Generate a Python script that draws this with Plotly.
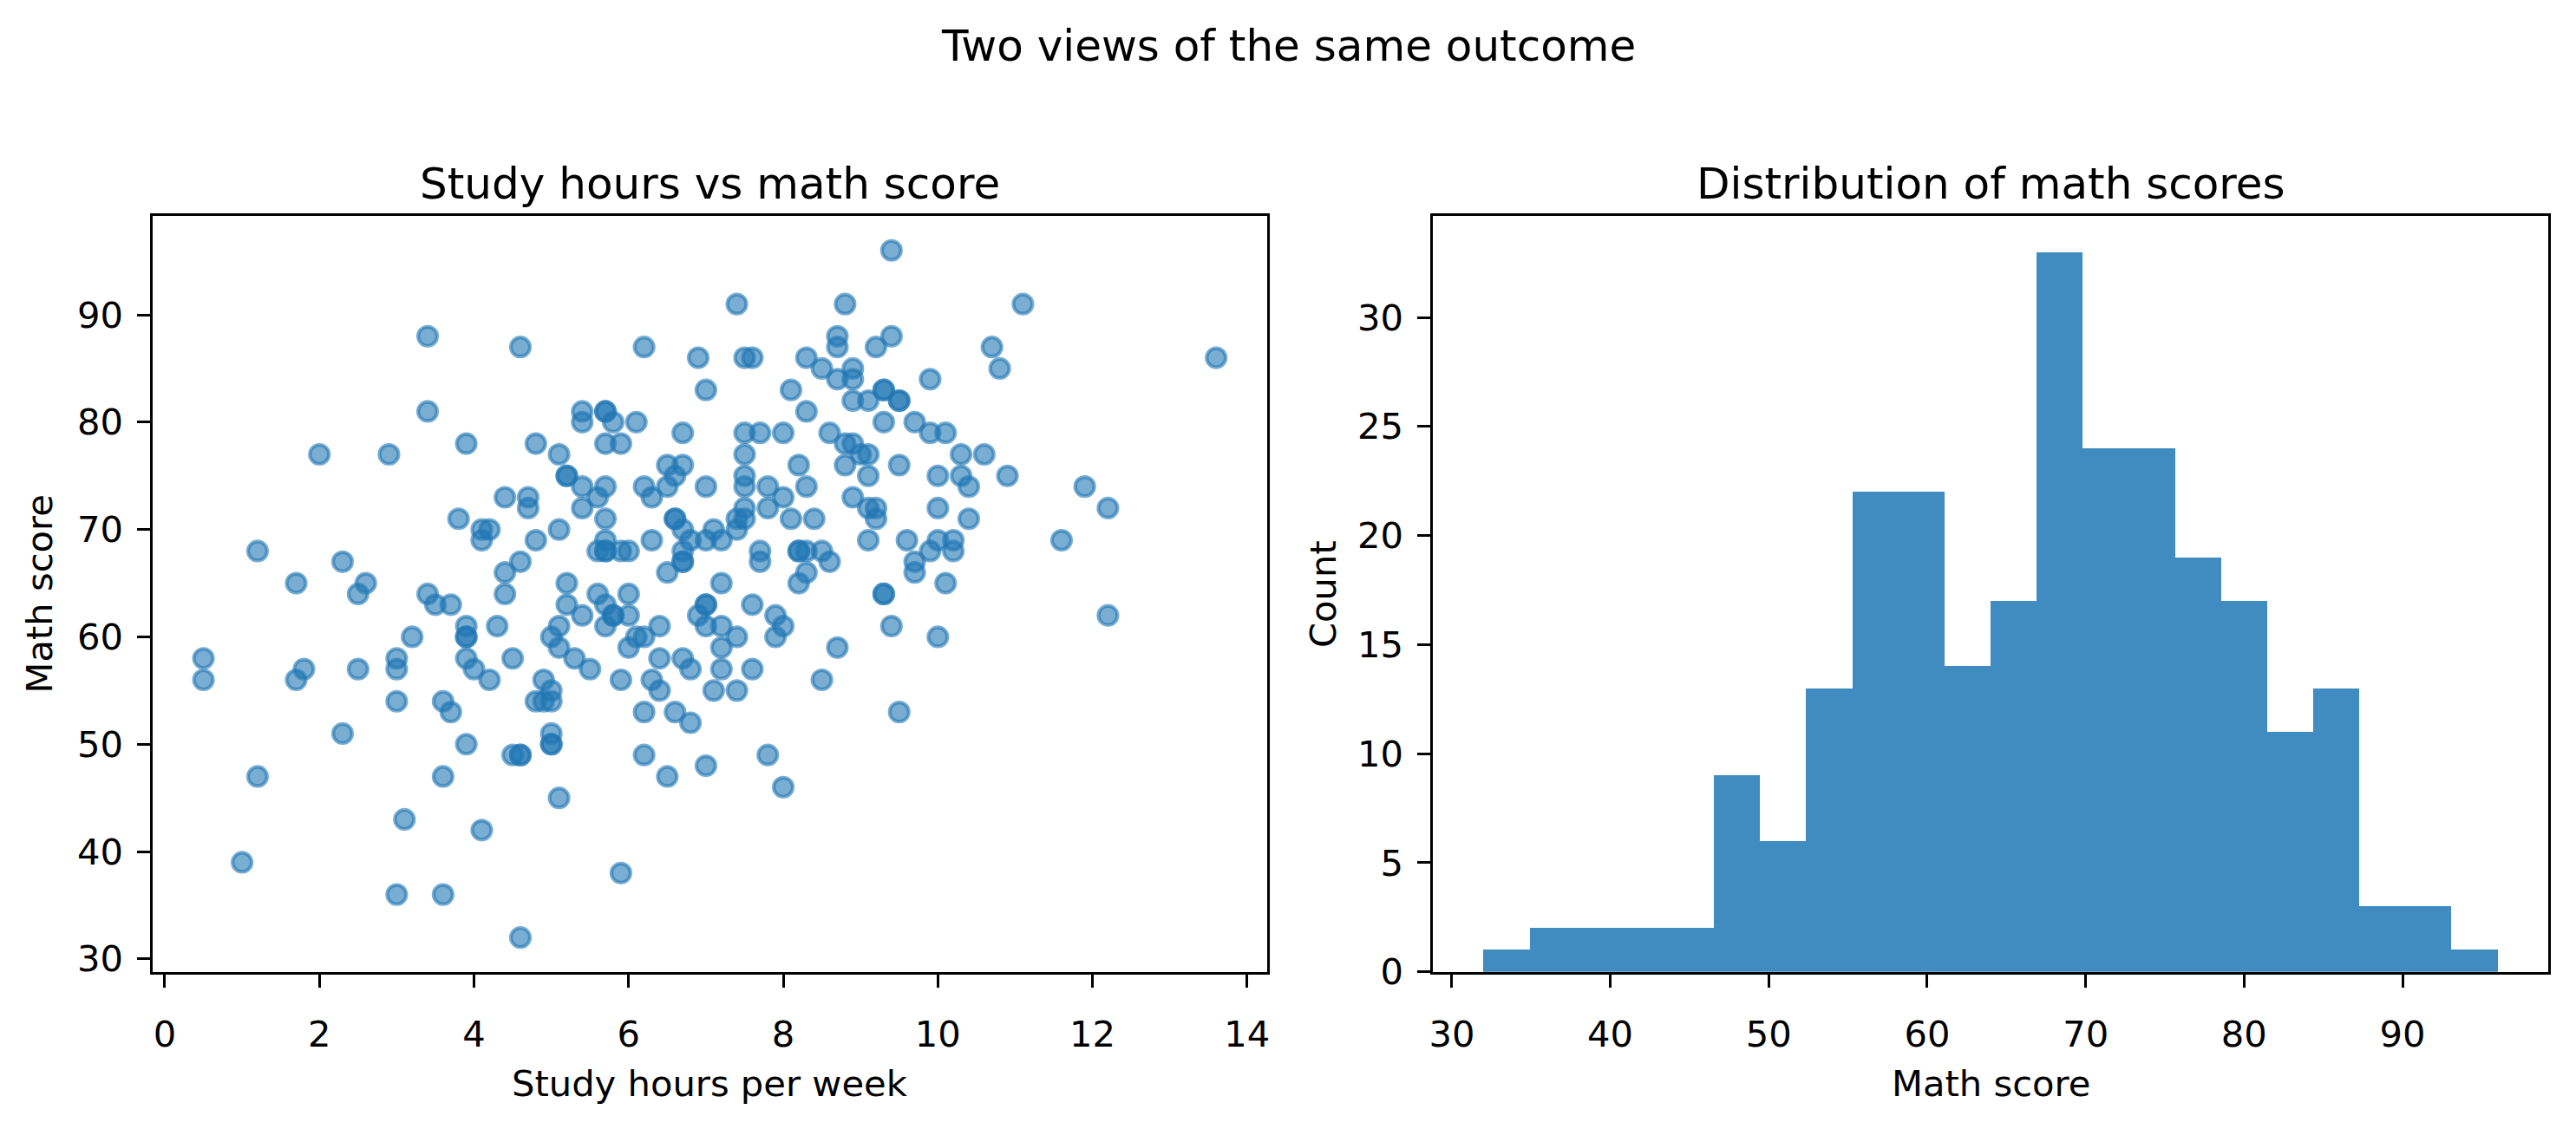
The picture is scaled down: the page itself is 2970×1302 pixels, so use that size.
import numpy as np
import plotly.graph_objects as go

# study hours and math score per student (grouped by score)
study_hours = [
    9.4,
    7.4, 8.8, 11.1,
    3.4, 8.7, 9.4,
    4.6, 6.2, 8.7, 9.2, 10.7,
    6.9, 7.5, 7.6, 8.3, 13.6,
    8.5, 8.9, 10.8,
    8.7, 8.9, 9.9,
    7.0, 8.1, 9.3, 9.3,
    8.9, 9.1, 9.5, 9.5,
    3.4, 5.4, 5.7, 5.7, 8.3,
    5.4, 5.8, 6.1, 9.3, 9.7,
    6.7, 7.5, 7.7, 8.0, 8.6, 9.9, 10.1,
    3.9, 4.8, 5.7, 5.9, 8.8, 8.9,
    2.0, 2.9, 5.1, 7.5, 9.0, 9.1, 10.3, 10.6,
    6.5, 6.7, 8.2, 8.8, 9.5,
    5.2, 5.2, 6.6, 7.5, 9.1, 10.0, 10.3, 10.9,
    5.4, 5.7, 6.2, 6.5, 7.0, 7.5, 7.8, 8.3, 10.4, 11.9,
    4.4, 4.7, 5.6, 6.3, 8.0, 8.9,
    4.7, 5.4, 7.5, 7.8, 9.1, 9.2, 10.0, 12.2,
    3.8, 5.7, 6.6, 6.6, 7.4, 7.5, 8.1, 8.4, 9.2, 10.4,
    4.1, 4.2, 5.1, 6.7, 7.1, 7.4,
    4.1, 4.8, 5.7, 6.3, 6.8, 7.0, 7.2, 9.1, 9.6, 10.0, 10.2, 11.6,
    1.2, 5.6, 5.7, 5.7, 5.9, 6.0, 6.7, 7.7, 8.2, 8.2, 8.3, 8.5, 9.9, 10.2,
    2.3, 4.6, 6.7, 6.7, 7.7, 8.6, 9.7,
    4.4, 6.5, 8.3, 9.7,
    1.7, 2.6, 5.2, 7.2, 8.2, 10.1,
    2.5, 3.4, 4.4, 5.6, 6.0, 9.3, 9.3,
    3.5, 3.7, 5.2, 5.7, 7.0, 7.0, 7.6,
    5.4, 5.8, 5.8, 6.0, 6.9, 7.9, 12.2,
    3.9, 4.3, 5.1, 5.7, 6.4, 7.0, 7.2, 8.0, 9.4,
    3.2, 3.9, 3.9, 5.0, 6.1, 6.2, 7.4, 7.9, 10.0,
    5.1, 6.0, 7.2, 8.7,
    0.5, 3.0, 3.9, 4.5, 5.3, 6.4, 6.7,
    1.8, 2.5, 3.0, 4.0, 5.5, 6.8, 7.2, 7.6,
    0.5, 1.7, 4.2, 4.9, 5.9, 6.3, 8.5,
    5.0, 6.4, 7.1, 7.4,
    3.0, 3.6, 4.8, 4.9, 5.0,
    3.7, 6.2, 6.6, 9.5,
    6.8,
    2.3, 5.0,
    3.9, 5.0, 5.0,
    4.5, 4.6, 4.6, 6.2, 7.8,
    7.0,
    1.2, 3.6, 6.5,
    8.0,
    5.1,
    3.1,
    4.1,
    1.0,
    5.9,
    3.0, 3.6,
    4.6,
]

math_score = [
    96,
    91, 91, 91,
    88, 88, 88,
    87, 87, 87, 87, 87,
    86, 86, 86, 86, 86,
    85, 85, 85,
    84, 84, 84,
    83, 83, 83, 83,
    82, 82, 82, 82,
    81, 81, 81, 81, 81,
    80, 80, 80, 80, 80,
    79, 79, 79, 79, 79, 79, 79,
    78, 78, 78, 78, 78, 78,
    77, 77, 77, 77, 77, 77, 77, 77,
    76, 76, 76, 76, 76,
    75, 75, 75, 75, 75, 75, 75, 75,
    74, 74, 74, 74, 74, 74, 74, 74, 74, 74,
    73, 73, 73, 73, 73, 73,
    72, 72, 72, 72, 72, 72, 72, 72,
    71, 71, 71, 71, 71, 71, 71, 71, 71, 71,
    70, 70, 70, 70, 70, 70,
    69, 69, 69, 69, 69, 69, 69, 69, 69, 69, 69, 69,
    68, 68, 68, 68, 68, 68, 68, 68, 68, 68, 68, 68, 68, 68,
    67, 67, 67, 67, 67, 67, 67,
    66, 66, 66, 66,
    65, 65, 65, 65, 65, 65,
    64, 64, 64, 64, 64, 64, 64,
    63, 63, 63, 63, 63, 63, 63,
    62, 62, 62, 62, 62, 62, 62,
    61, 61, 61, 61, 61, 61, 61, 61, 61,
    60, 60, 60, 60, 60, 60, 60, 60, 60,
    59, 59, 59, 59,
    58, 58, 58, 58, 58, 58, 58,
    57, 57, 57, 57, 57, 57, 57, 57,
    56, 56, 56, 56, 56, 56, 56,
    55, 55, 55, 55,
    54, 54, 54, 54, 54,
    53, 53, 53, 53,
    52,
    51, 51,
    50, 50, 50,
    49, 49, 49, 49, 49,
    48,
    47, 47, 47,
    46,
    45,
    43,
    42,
    39,
    38,
    36, 36,
    32,
]

n_bins = 22
x_ticks = [0, 2, 4, 6, 8, 10, 12, 14]
score_ticks = [30, 40, 50, 60, 70, 80, 90]
count_ticks = [0, 5, 10, 15, 20, 25, 30]

# same binning as the original histogram (22 bins over the score range)
counts, edges = np.histogram(math_score, bins=n_bins)
centers = (edges[:-1] + edges[1:]) / 2
bin_w = edges[1] - edges[0]

W, H = 2970, 1302
def fx(p):
    return p / W
def fy(p):
    return 1 - p / H

BLUE = "31,119,180"
FONT = "DejaVu Sans"
TICK_PX = 41.67
TITLE_PX = 50

fig = go.Figure()

fig.add_trace(go.Scatter(
    x=study_hours, y=math_score, mode="markers",
    marker=dict(size=22, color="rgba(%s,0.6)" % BLUE,
                line=dict(width=4.2, color="rgba(%s,0.6)" % BLUE)),
    xaxis="x", yaxis="y", showlegend=False,
))

fig.add_trace(go.Bar(
    x=centers, y=counts, width=bin_w,
    marker=dict(color="rgba(%s,0.85)" % BLUE, line=dict(width=0)),
    xaxis="x2", yaxis="y2", showlegend=False,
))

def ax(domain, rng, ticks, anchor, standoff):
    return dict(
        domain=domain, range=rng, anchor=anchor,
        tickmode="array", tickvals=ticks,
        ticks="outside", ticklen=14.6, tickwidth=3.3, tickcolor="black",
        showline=True, linewidth=3.3, linecolor="black", mirror=True,
        showgrid=False, zeroline=False,
        tickfont=dict(family=FONT, size=TICK_PX, color="black"),
        ticklabelstandoff=standoff,
    )

ydom = [fy(1142.7), fy(254)]
lo, hi = min(math_score), max(math_score)
pad = (hi - lo) * 0.05
hpad = (max(study_hours) - min(study_hours)) * 0.05

fig.update_layout(
    width=W, height=H, autosize=False,
    margin=dict(l=0, r=0, t=0, b=0),
    paper_bgcolor="white", plot_bgcolor="white",
    font=dict(family=FONT, color="black"),
    bargap=0,
    xaxis=ax([fx(171.7), fx(1460)], [min(study_hours) - hpad, max(study_hours) + hpad], x_ticks, "y", 18),
    yaxis=ax(ydom, [lo - pad, hi + pad], score_ticks, "x", 8),
    xaxis2=ax([fx(1652), fx(2942)], [lo - pad, hi + pad], score_ticks, "y2", 18),
    yaxis2=ax(ydom, [0, max(counts) * 1.05], count_ticks, "x2", 8),
)

def label(text, x, y, size, angle=0):
    fig.add_annotation(
        text=text, x=fx(x), y=fy(y), xref="paper", yref="paper",
        xanchor="center", yanchor="middle", showarrow=False,
        textangle=angle, font=dict(family=FONT, size=size, color="black"),
    )

label("Two views of the same outcome", 1485, 54, TITLE_PX)
label("Study hours vs math score", 815.9, 216, TITLE_PX)
label("Distribution of math scores", 2297, 216, TITLE_PX)
label("Study hours per week", 815.9, 1274, TICK_PX)
label("Math score", 2297, 1274, TICK_PX)
label("Math score", 41, 698, TICK_PX, -90)
label("Count", 1525, 698, TICK_PX, -90)

fig.write_html("out.html", config={"displayModeBar": False},
               post_script="document.body.style.margin='0';")
